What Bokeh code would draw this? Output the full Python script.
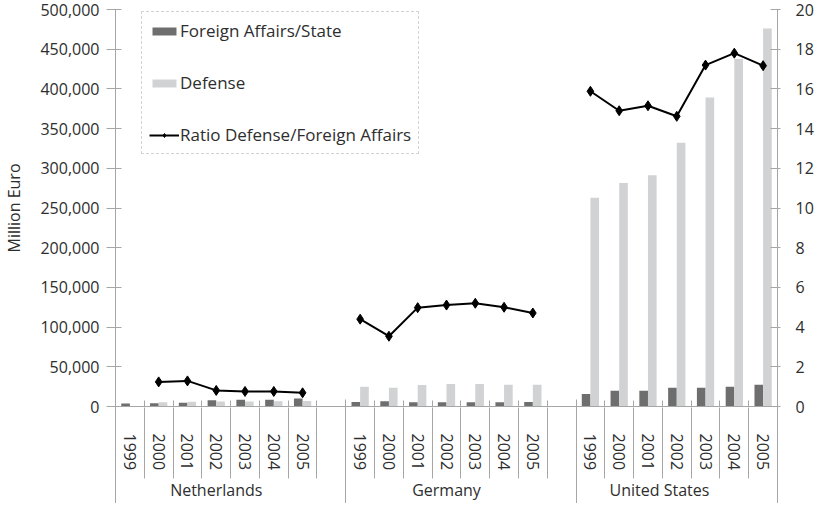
import math
from bokeh.plotting import figure
from bokeh.models import (Range1d, LinearAxis, FixedTicker, NumeralTickFormatter,
                          ColumnDataSource, Legend, LegendItem)
from bokeh.embed import file_html
from bokeh.resources import INLINE

NAN = float("nan")

countries = ["Netherlands", "Germany", "United States"]
years = ["1999", "2000", "2001", "2002", "2003", "2004", "2005"]
empty_slot = [True, True, False]   # blank category after the group

# Million Euro
nl_foreign = [3700, 4200, 4600, 7900, 8400, 8500, 10000]
nl_defense = [NAN, 5200, 5900, 6400, 6400, 6500, 6900]
nl_ratio = [NAN, 1.24, 1.29, 0.81, 0.76, 0.76, 0.69]

de_foreign = [5600, 6600, 5400, 5500, 5500, 5500, 5800]
de_defense = [24800, 23500, 27000, 28400, 28400, 27300, 27300]
de_ratio = [4.40, 3.54, 4.98, 5.11, 5.20, 5.00, 4.71]

us_foreign = [15700, 19800, 19800, 23500, 23500, 24800, 27300]
us_defense = [263000, 281500, 291400, 332300, 389300, 437800, 476000]
us_ratio = [15.88, 14.90, 15.15, 14.62, 17.20, 17.80, 17.17]

left_ticks = [0, 50000, 100000, 150000, 200000, 250000, 300000, 350000, 400000, 450000, 500000]
right_ticks = [0, 2, 4, 6, 8, 10, 12, 14, 16, 18, 20]
group_label_offsets = [3.5, 3.5, 2.9]

FONT = "Open Sans"
TEXT = "#2e2e2e"
AXIS = "#a6a6a6"
DARK = "#6e6e6e"
LIGHT = "#d1d2d4"

series = {
    "Netherlands": (nl_foreign, nl_defense, nl_ratio),
    "Germany": (de_foreign, de_defense, de_ratio),
    "United States": (us_foreign, us_defense, us_ratio),
}

xc, fa, de, ra = [], [], [], []
year_ticks, year_labels, group_bounds, group_starts = [], {}, [0], []
pos = 0
for c, extra in zip(countries, empty_slot):
    f, d, r = series[c]
    group_starts.append(pos)
    for i, y in enumerate(years):
        xc.append(pos + 0.5)
        fa.append(f[i]); de.append(d[i]); ra.append(r[i])
        year_ticks.append(pos + 0.5)
        year_labels[pos + 0.5] = y
        pos += 1
    if extra:
        xc.append(pos + 0.5)
        fa.append(NAN); de.append(NAN); ra.append(NAN)
        pos += 1
    group_bounds.append(pos)
n = pos
group_label_pos = [s + o for s, o in zip(group_starts, group_label_offsets)]
group_labels = {p_: c for p_, c in zip(group_label_pos, countries)}

bw = 0.3
src = ColumnDataSource(dict(x=xc, xl=[v - bw / 2 for v in xc], xr=[v + bw / 2 for v in xc],
                            fa=fa, de=de, ra=ra))

p = figure(width=816, height=503, x_range=Range1d(0, n), y_range=Range1d(0, 500000),
           output_backend="svg", toolbar_location=None, x_axis_location=None,
           min_border_left=109, min_border_right=36, min_border_top=9, min_border_bottom=0)
p.extra_y_ranges = {"ratio": Range1d(0, 20)}
p.outline_line_color = None
for g in p.grid:
    g.visible = False
p.background_fill_color = "white"
p.border_fill_color = "white"

r_fa = p.vbar(x="xl", top="fa", width=bw, source=src, fill_color=DARK, line_color=None)
r_de = p.vbar(x="xr", top="de", width=bw, source=src, fill_color=LIGHT, line_color=None)
r_line = p.line(x="x", y="ra", source=src, y_range_name="ratio", line_color="black", line_width=2)
r_pts = p.scatter(x="x", y="ra", source=src, y_range_name="ratio", marker="diamond",
                  size=10, fill_color="black", line_color="black")

# left axis
ya = p.yaxis[0]
ya.ticker = FixedTicker(ticks=left_ticks)
ya.formatter = NumeralTickFormatter(format="0,0")
ya.axis_label = "Million Euro"
ya.axis_label_text_font = FONT
ya.axis_label_text_font_size = "16px"
ya.axis_label_text_font_style = "normal"
ya.axis_label_text_color = TEXT
ya.axis_label_standoff = 12
ya.major_label_text_font = FONT
ya.major_label_text_font_size = "16px"
ya.major_label_text_color = TEXT
ya.major_label_standoff = 7
ya.major_tick_out = 9
ya.major_tick_in = 6
ya.minor_tick_line_color = None
ya.axis_line_color = AXIS
ya.major_tick_line_color = AXIS

# right axis
yr = LinearAxis(y_range_name="ratio", ticker=FixedTicker(ticks=right_ticks))
yr.major_label_text_font = FONT
yr.major_label_text_font_size = "16px"
yr.major_label_text_color = TEXT
yr.major_label_standoff = 15
yr.major_tick_out = 3
yr.major_tick_in = 7
yr.minor_tick_line_color = None
yr.axis_line_color = AXIS
yr.major_tick_line_color = AXIS
p.add_layout(yr, "right")

A_EXT = 66
B_EXT = 32
# year axis
xa = LinearAxis(ticker=FixedTicker(ticks=year_ticks, minor_ticks=list(range(n + 1))))
xa.major_label_overrides = year_labels
xa.major_label_orientation = "vertical"
xa.major_label_text_font = FONT
xa.major_label_text_font_size = "16px"
xa.major_label_text_color = TEXT
xa.major_tick_line_color = None
xa.major_tick_out = 20
xa.major_tick_in = 0
xa.major_label_standoff = 7
xa.minor_tick_line_color = AXIS
xa.minor_tick_in = 6
xa.minor_tick_out = 0
xa.axis_line_color = AXIS
xa.axis_label_standoff = 0
p.add_layout(xa, "below")

# group label axis (its minor ticks are the lower parts of the year separators)
ga = LinearAxis(ticker=FixedTicker(ticks=group_label_pos, minor_ticks=list(range(n + 1))))
ga.major_label_overrides = group_labels
ga.major_label_text_font = FONT
ga.major_label_text_font_size = "16px"
ga.major_label_text_line_height = 1.0
ga.major_label_text_color = TEXT
ga.major_tick_line_color = None
ga.major_tick_out = 0
ga.major_tick_in = 0
ga.major_label_standoff = 0
ga.minor_tick_line_color = AXIS
ga.minor_tick_in = A_EXT
ga.minor_tick_out = 5
ga.axis_line_color = None
ga.axis_label_standoff = 0
p.add_layout(ga, "below")

# group boundary lines (minor ticks only, no labels)
ba = LinearAxis(ticker=FixedTicker(ticks=[], minor_ticks=group_bounds))
ba.major_label_text_font_size = "0px"
ba.major_label_standoff = 0
ba.major_tick_line_color = None
ba.major_tick_in = 0
ba.major_tick_out = 0
ba.minor_tick_line_color = AXIS
ba.minor_tick_in = A_EXT + B_EXT + 6
ba.minor_tick_out = 0
ba.axis_line_color = None
ba.axis_label_standoff = 0
p.add_layout(ba, "below")

legend = Legend(items=[
    LegendItem(label="Foreign Affairs/State", renderers=[r_fa]),
    LegendItem(label="Defense", renderers=[r_de]),
    LegendItem(label="Ratio Defense/Foreign Affairs", renderers=[r_line, r_pts]),
], location=(26, 252))
legend.label_text_font = FONT
legend.label_text_font_size = "17px"
legend.label_text_color = TEXT
legend.glyph_width = 30
legend.glyph_height = 10
legend.label_height = 20
legend.label_standoff = 1
legend.spacing = 29
legend.padding = 7
legend.margin = 0
legend.border_line_color = AXIS
legend.border_line_dash = "45 48"
legend.border_line_dash_offset = 24
legend.background_fill_alpha = 0
p.add_layout(legend)

open("out.html", "w").write(file_html(p, INLINE))
